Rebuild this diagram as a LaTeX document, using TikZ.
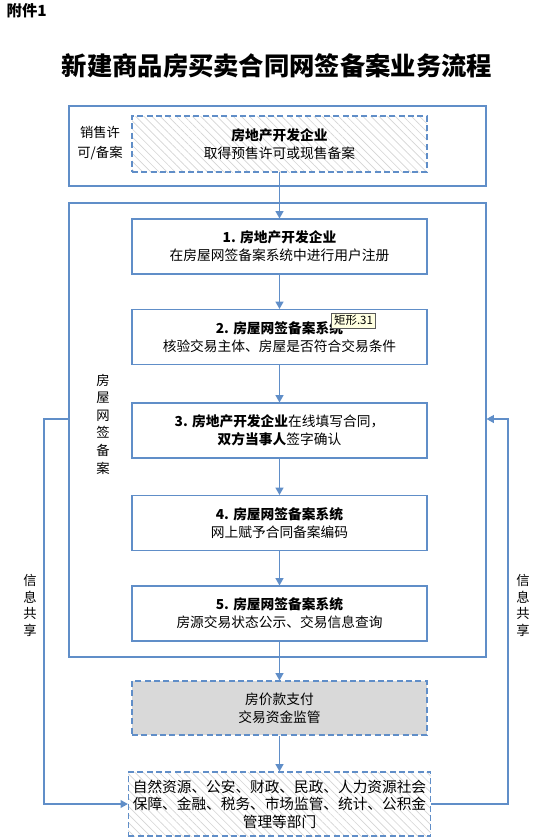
\documentclass[tikz,border=0pt]{standalone}
\usepackage{fontspec}
\setmainfont{Noto Sans CJK SC}
\usetikzlibrary{arrows.meta,patterns.meta}
\definecolor{linecol}{RGB}{96,142,200}
\definecolor{boxgray}{RGB}{217,217,217}
\definecolor{tipcol}{RGB}{255,255,225}

\begin{document}
\begin{tikzpicture}[x=0.75pt,y=-0.75pt,
  frame/.style={draw=linecol,line width=0.8pt,minimum width=312.75pt},
  stepbox/.style={draw=linecol,line width=0.8pt,fill=white,minimum width=221.25pt,
    minimum height=41.25pt,align=center,font=\fontsize{10.3}{13.5}\selectfont},
  hatchbox/.style={draw=linecol,line width=0.8pt,dash pattern=on 4.5pt off 2.5pt,
    minimum width=221.25pt,align=center,
    pattern={Lines[angle=-45,distance=4.3pt,line width=0.5pt]},pattern color=black!17},
  greybox/.style={draw=linecol,line width=0.8pt,dash pattern=on 4.5pt off 2.5pt,
    fill=boxgray,minimum width=221.25pt,minimum height=40.5pt,align=center,
    font=\fontsize{10.3}{13.5}\selectfont},
  flow/.style={linecol,line width=0.8pt,-{Triangle[width=6pt,length=5.5pt]}},
  side/.style={align=center,font=\fontsize{10}{12.4}\selectfont},
  tipbox/.style={draw=black!65,line width=0.4pt,fill=tipcol,inner sep=1.8pt,
    font=\fontsize{8.6}{9}\selectfont}]
\useasboundingbox (0,0) rectangle (537,840);

% heading
\node[anchor=west,font=\fontsize{11.5}{13}\selectfont\bfseries] (annex) at (2,11) {附件1};
\node[font=\fontsize{19}{22}\selectfont\bfseries] (title) at (277,66) {新建商品房买卖合同网签备案业务流程};

% outer frames
\node[frame,minimum height=60pt] (permitframe) at (277.5,146) {};
\node[frame,minimum height=340.5pt] (filing) at (277.5,430) {};

% permit
\node[side,font=\fontsize{10}{15}\selectfont] (permitlbl) at (100,143) {销售许\\可/备案};
\node[hatchbox,minimum height=42pt,font=\fontsize{10.3}{13.5}\selectfont] (permit) at (279.5,144)
  {\textbf{房地产开发企业}\\取得预售许可或现售备案};

% steps
\node[stepbox] (s1) at (279.5,246.5) {\textbf{1. 房地产开发企业}\\在房屋网签备案系统中进行用户注册};
\node[stepbox] (s2) at (279.5,337) {\textbf{2. 房屋网签备案系统}\\核验交易主体、房屋是否符合交易条件};
\node[stepbox] (s3) at (279.5,430.5) {\textbf{3. 房地产开发企业}在线填写合同，\\\textbf{双方当事人}签字确认};
\node[stepbox] (s4) at (279.5,523) {\textbf{4. 房屋网签备案系统}\\网上赋予合同备案编码};
\node[stepbox] (s5) at (279.5,613.5) {\textbf{5. 房屋网签备案系统}\\房源交易状态公示、交易信息查询};
\node[tipbox] (tip) at (353.5,320.5) {矩形.31};

\node[side,font=\fontsize{10}{13.2}\selectfont] (filinglbl) at (103,424) {房\\屋\\网\\签\\备\\案};

% payment and departments
\node[greybox] (pay) at (279.5,708) {房价款支付\\交易资金监管};
\node[hatchbox,minimum height=48pt,font=\fontsize{11}{13.1}\selectfont] (depts) at (279.5,804)
  {自然资源、公安、财政、民政、人力资源社会\\保障、金融、税务、市场监管、统计、公积金\\管理等部门};

% main flow
\draw[flow] (permit.south) -- (s1.north);
\draw[flow] (s1) -- (s2);
\draw[flow] (s2) -- (s3);
\draw[flow] (s3) -- (s4);
\draw[flow] (s4) -- (s5);
\draw[flow] (s5) -- (pay);
\draw[flow] (pay) -- (depts);

% information sharing
\coordinate (lt) at (44,419);
\coordinate (rt) at (508,419);
\draw[flow] (filing.west |- lt) -- (lt) |- (depts.west);
\draw[flow] (depts.east) -| (rt) -- (filing.east |- rt);
\node[side] (sharel) at (30,605.5) {信\\息\\共\\享};
\node[side] (sharer) at (523,605.5) {信\\息\\共\\享};
\end{tikzpicture}
\end{document}
